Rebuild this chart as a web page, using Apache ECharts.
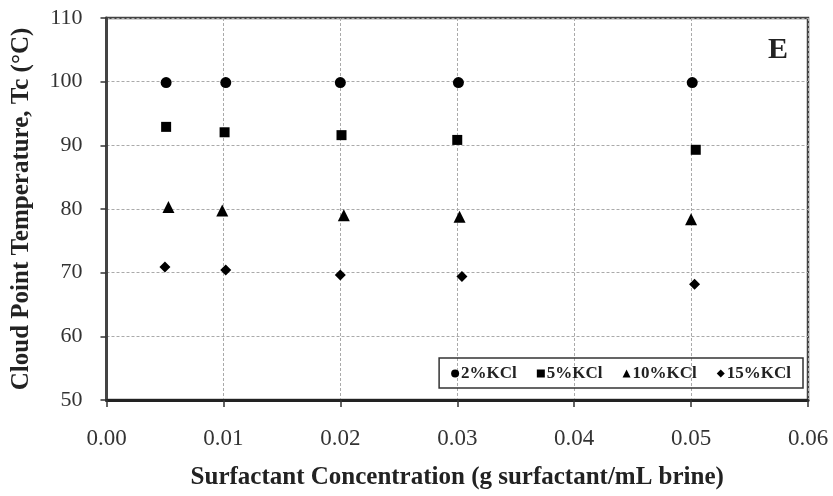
<!DOCTYPE html>
<html><head><meta charset="utf-8">
<script src="https://cdn.jsdelivr.net/npm/echarts@6/dist/echarts.min.js"></script>
<style>html,body{margin:0;padding:0;background:#fff}#c{width:833px;height:496px}</style>
</head><body><div id="c"></div>
<script>
const xTicks = [0, 0.01, 0.02, 0.03, 0.04, 0.05, 0.06];
const yTicks = [50, 60, 70, 80, 90, 100, 110];
const seriesNames = ['2%KCl', '5%KCl', '10%KCl', '15%KCl'];
const kcl2 = [[0.0051, 99.85], [0.0102, 99.85], [0.0200, 99.85], [0.0301, 99.85], [0.0501, 99.85]];
const kcl5 = [[0.0051, 92.9], [0.0101, 92.05], [0.0201, 91.6], [0.0300, 90.85], [0.0504, 89.3]];
const kcl10 = [[0.0053, 80.3], [0.0099, 79.75], [0.0203, 79.0], [0.0302, 78.8], [0.0500, 78.4]];
const kcl15 = [[0.0050, 70.9], [0.0102, 70.4], [0.0200, 69.65], [0.0304, 69.4], [0.0503, 68.2]];

const font = '"Liberation Serif","DejaVu Serif",serif';
const chart = echarts.init(document.getElementById('c'));
const symbols = ['circle', 'rect', 'triangle', 'diamond'];
const sizes = [11, 10, 12, 11];
const datas = [kcl2, kcl5, kcl10, kcl15];
chart.setOption({
  animation: false,
  backgroundColor: '#fff',
  grid: { left: 106.5, right: 25, top: 18, bottom: 96, show: true, borderColor: '#444', borderWidth: 2.5 },
  legend: {
    data: seriesNames.map((n, i) => ({ name: n, icon: symbols[i] })),
    right: 30, bottom: 108, orient: 'horizontal',
    padding: [7, 12, 6, 12],
    itemGap: 20,
    itemWidth: 8, itemHeight: 8,
    borderColor: '#333', borderWidth: 1.5, borderRadius: 0,
    textStyle: { fontFamily: font, fontSize: 17, color: '#222', fontWeight: 'bold', padding: [0, 0, 0, -3] }
  },
  xAxis: {
    type: 'value', min: 0, max: 0.06, interval: 0.01,
    name: 'Surfactant Concentration (g surfactant/mL brine)',
    nameLocation: 'middle', nameGap: 65,
    nameTextStyle: { fontFamily: font, fontSize: 25, fontWeight: 'bold', color: '#222' },
    axisLine: { show: true, onZero: false, lineStyle: { color: '#222', width: 3 } },
    axisTick: { show: true, inside: false, length: 7, lineStyle: { color: '#333', width: 1.5 } },
    axisLabel: { fontFamily: font, fontSize: 23, color: '#333', margin: 27, formatter: v => v.toFixed(2) },
    splitLine: { show: true, lineStyle: { color: '#aaa', type: [3, 2], width: 1 } }
  },
  yAxis: {
    type: 'value', min: 50, max: 110, interval: 10,
    name: 'Cloud Point Temperature, Tc (°C)',
    nameLocation: 'middle', nameGap: 72,
    nameTextStyle: { fontFamily: font, fontSize: 25, fontWeight: 'bold', color: '#222' },
    axisLine: { show: true, onZero: false, lineStyle: { color: '#444', width: 3 } },
    axisTick: { show: true, inside: false, length: 6, lineStyle: { color: '#333', width: 1.5 } },
    axisLabel: { fontFamily: font, fontSize: 22, color: '#333', margin: 24 },
    splitLine: { show: true, lineStyle: { color: '#aaa', type: [3, 2], width: 1 } }
  },
  graphic: [{
    type: 'text', right: 45, top: 35,
    style: { text: 'E', font: 'bold 30px ' + font, fill: '#222' }
  }],
  series: datas.map((d, i) => ({
    name: seriesNames[i], type: 'scatter', data: d,
    symbol: symbols[i], symbolSize: sizes[i],
    itemStyle: { color: '#000', opacity: 1 }
  }))
});
</script></body></html>
